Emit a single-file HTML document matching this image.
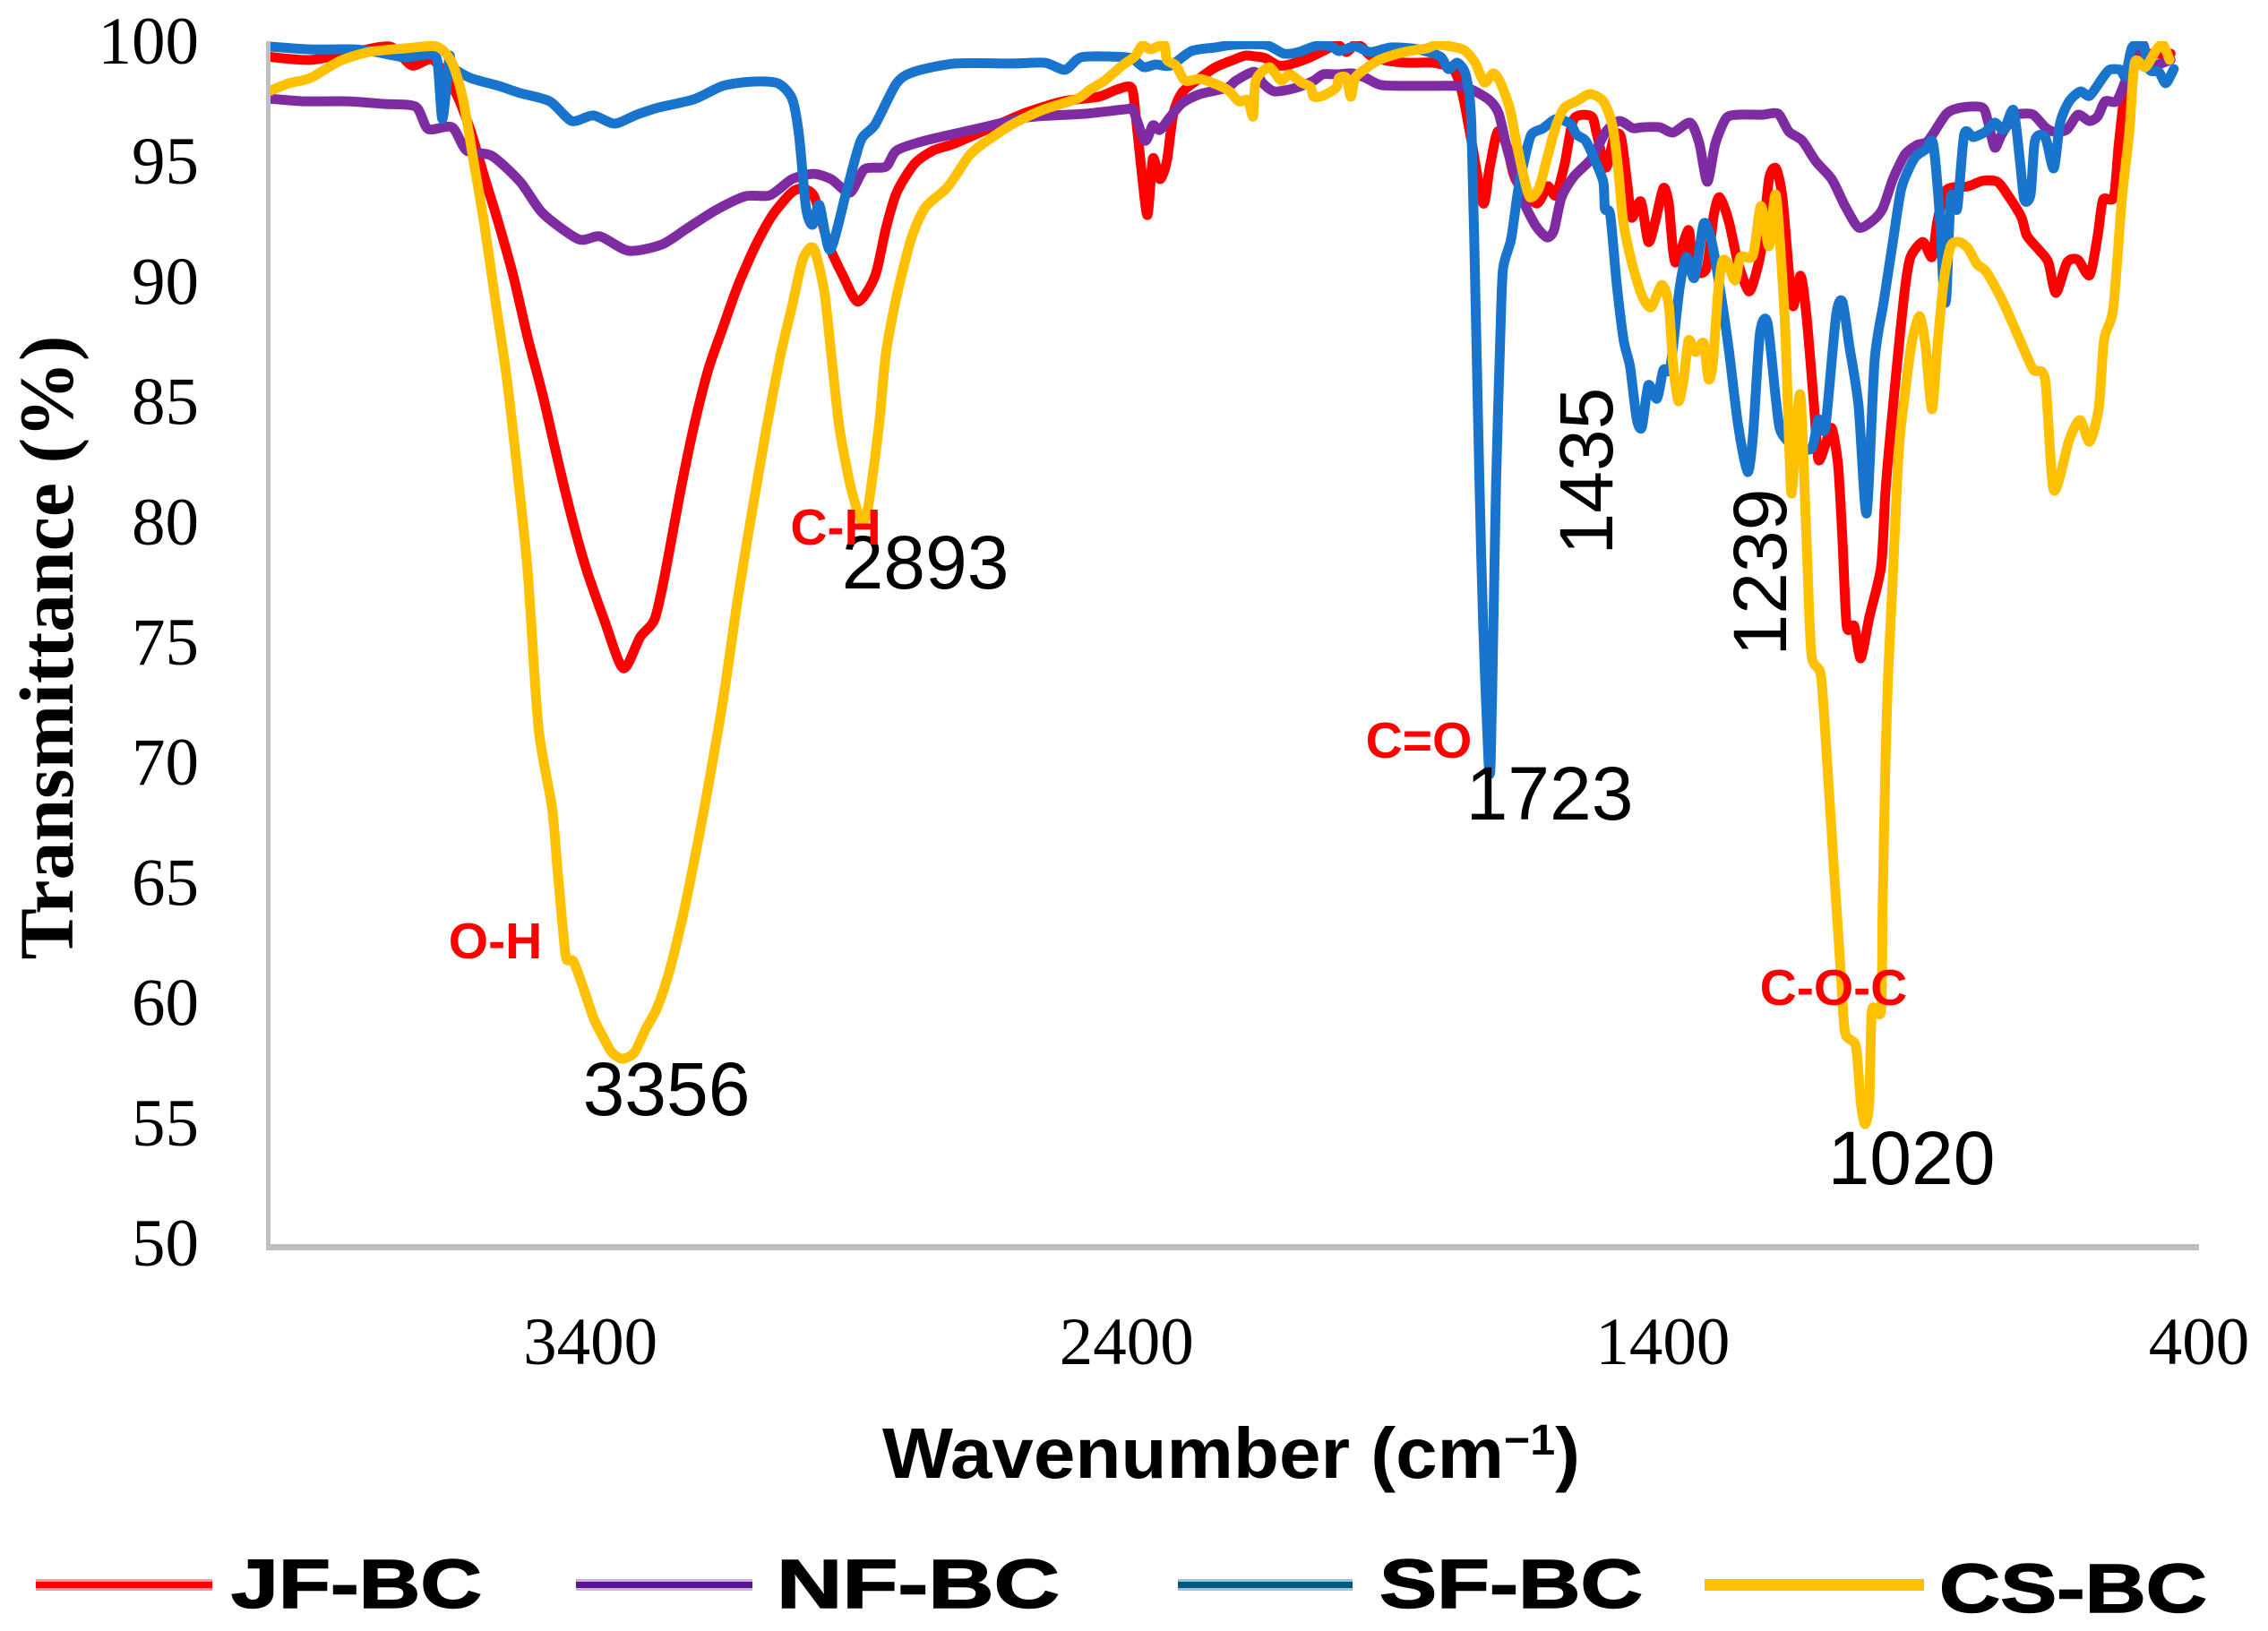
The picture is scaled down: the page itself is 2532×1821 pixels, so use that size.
<!DOCTYPE html>
<html lang="en">
<head>
<meta charset="utf-8">
<title>FTIR transmittance spectra</title>
<style>
html,body{margin:0;padding:0;background:#fff}
svg{display:block}
.tick{font-family:"Liberation Serif",serif;font-size:75px;fill:#000}
.peak{font-family:"Liberation Sans",sans-serif;font-size:84px;fill:#000;text-anchor:middle}
.group{font-family:"Liberation Sans",sans-serif;font-size:57px;font-weight:bold;fill:#f00;text-anchor:middle}
.leg{font-family:"Liberation Sans",sans-serif;font-size:77px;font-weight:bold;fill:#000;stroke:#000;stroke-width:1.5px}
</style>
</head>
<body>
<svg id="chart" xmlns="http://www.w3.org/2000/svg" width="2532" height="1821" viewBox="0 0 2532 1821">
  <defs><clipPath id="plot-clip"><rect x="298" y="46" width="2140" height="1340"/></clipPath></defs>
  <g id="series" clip-path="url(#plot-clip)"></g>
  <rect x="297" y="46" width="5" height="1350" fill="#bfbfbf"/>
  <rect x="299" y="1389" width="2156" height="7" fill="#bfbfbf"/>
  <g id="yticks"></g>
  <g id="xticks"></g>

  <text transform="translate(81,723) rotate(-90)" text-anchor="middle" font-family="'Liberation Serif',serif" font-weight="bold" font-size="86" textLength="697" lengthAdjust="spacingAndGlyphs">Transmittance (%)</text>
  <text x="985" y="1650" font-family="'Liberation Sans',sans-serif" font-weight="bold" font-size="80" textLength="779" lengthAdjust="spacingAndGlyphs">Wavenumber (cm<tspan dy="-26" font-size="48">−1</tspan><tspan dy="26">)</tspan></text>

  <text class="peak" x="744" y="1245">3356</text>
  <text class="peak" x="1033" y="657">2893</text>
  <text class="peak" x="1730" y="915">1723</text>
  <text class="peak" x="2134" y="1322">1020</text>
  <text class="peak" transform="translate(1800,526) rotate(-90)">1435</text>
  <text class="peak" transform="translate(1994,639) rotate(-90)">1239</text>

  <text class="group" x="553" y="1070">O-H</text>
  <text class="group" x="933" y="608">C-H</text>
  <text class="group" x="1584" y="846">C=O</text>
  <text class="group" x="2047" y="1122">C-O-C</text>

  <g>
    <g>
      <rect x="40" y="1763" width="197" height="13" fill="#ff9a9a"/><rect x="40" y="1766" width="197" height="7" fill="#f00"/>
      <text class="leg" x="258" y="1795" textLength="280" lengthAdjust="spacingAndGlyphs">JF-BC</text>
    </g>
    <g>
      <rect x="643" y="1763" width="197" height="13" fill="#d0b2e0"/><rect x="643" y="1766" width="197" height="7" fill="#5c1591"/>
      <text class="leg" x="867" y="1795" textLength="316" lengthAdjust="spacingAndGlyphs">NF-BC</text>
    </g>
    <g>
      <rect x="1315" y="1763" width="195" height="13" fill="#9cc4d6"/><rect x="1315" y="1766" width="195" height="7" fill="#00597f"/>
      <text class="leg" x="1540" y="1795" textLength="294" lengthAdjust="spacingAndGlyphs">SF-BC</text>
    </g>
    <g>
      <rect x="1903" y="1763" width="245" height="13" fill="#ffc000"/>
      <text class="leg" x="2165" y="1800" textLength="299" lengthAdjust="spacingAndGlyphs">CS-BC</text>
    </g>
  </g>
</svg>
<script>
const yTickValues = [100,95,90,85,80,75,70,65,60,55,50];
const xTickValues = [3400,2400,1400,400];

const jfWavenumber = [4000,3922,3840,3773,3733,3693,3651,3624,3598,3571,3544,3517,3489,3462,3436,3409,3375,3339,3307,3280,3260,3233,3207,3180,3153,3125,3091,3058,3018,2984,2956,2929,2901,2869,2849,2829,2796,2761,2720,2640,2585,2518,2452,2418,2391,2383,2371,2361,2351,2338,2325,2313,2296,2263,2234,2201,2179,2157,2141,2117,2096,2062,2034,2007,1990,1975,1962,1945,1912,1873,1828,1790,1773,1757,1735,1723,1708,1691,1675,1636,1615,1600,1583,1566,1533,1523,1506,1491,1478,1466,1458,1441,1427,1414,1399,1389,1377,1352,1344,1319,1305,1294,1277,1260,1240,1227,1215,1202,1189,1177,1165,1157,1143,1132,1118,1110,1097,1085,1073,1065,1057,1043,1031,1015,993,985,976,960,948,938,915,898,888,871,831,804,776,754,731,721,697,681,667,646,626,604,589,579,559,550,537,520,453];
const jfTransmittance = [99.5,99.37,99.7,99.92,99.14,99.37,97.99,96.46,94.52,92.55,90.39,87.82,85.43,82.82,80.44,78.28,76.12,74.07,75.37,76.12,78.09,81.33,84.13,86.51,88.23,89.98,91.69,92.99,93.96,93.74,91.69,90.39,89.31,90.39,92.36,93.85,95.04,95.6,95.9,96.68,97.2,97.65,97.84,98.14,98.21,97.02,94.52,92.92,95.27,94.41,95.16,97.13,98.03,98.62,99.07,99.37,99.55,99.51,99.44,99.14,99.18,99.44,99.74,100,99.7,100,99.92,99.55,99.33,99.25,99.25,98.96,97.88,96.01,93.4,94.89,96.39,95.79,94.41,93.4,94.11,93.74,95.04,96.91,97.02,96.27,94.89,96.16,96.16,94.15,92.81,93.48,91.8,92.66,94.04,93.4,90.95,92.29,90.68,90.68,92.92,93.66,92.66,90.95,89.75,90.42,91.69,94.41,94.86,93.66,90.57,89.12,90.39,88.71,84.98,82.75,83.35,84.05,82.49,79.43,75.82,75.82,74.48,76.19,78.28,81.33,83.72,87.44,89.94,91.17,91.8,91.17,92.66,93.96,94.11,94.34,94.3,93.66,92.81,92.06,91.43,90.95,89.68,90.95,91.06,90.42,92.06,93.55,93.66,95.79,98.25,99.51,99.63];

const nfWavenumber = [4000,3935,3853,3786,3726,3703,3658,3631,3584,3531,3489,3422,3382,3329,3267,3220,3167,3111,3065,3024,2984,2951,2916,2889,2849,2829,2776,2680,2585,2478,2401,2388,2366,2351,2338,2318,2296,2263,2213,2196,2162,2146,2124,2084,2051,2034,2007,1979,1954,1924,1857,1783,1757,1723,1706,1690,1673,1656,1636,1616,1603,1589,1566,1533,1506,1481,1456,1439,1406,1381,1349,1332,1317,1302,1282,1260,1215,1185,1165,1140,1115,1085,1060,1035,1010,990,971,948,926,905,871,843,804,793,781,768,746,731,709,687,672,647,626,605,589,575,554,537,520,504,492,453];
const nfTransmittance = [97.76,97.65,97.65,97.54,97.43,96.5,96.57,95.6,95.38,94.3,92.99,91.91,92.03,91.43,91.69,92.36,93.11,93.7,93.74,94.41,94.63,94.41,93.85,94.82,94.93,95.6,96.01,96.5,96.98,97.13,97.32,97.28,96.01,96.65,96.46,97.02,97.58,97.95,98.21,98.51,98.88,98.4,98.06,98.21,98.51,98.77,98.77,98.81,98.62,98.32,98.29,98.29,98.14,97.69,97.13,95.64,94.41,93.29,92.44,91.99,92.29,93.66,94.52,95.27,96.39,96.83,96.53,96.57,96.57,96.35,96.76,95.9,94.3,95.9,96.94,97.09,97.09,97.13,96.39,96.01,95.16,94.41,93.29,92.4,92.66,93.18,94.41,95.45,95.83,96.01,97.13,97.39,97.39,96.76,95.72,96.27,97.02,97.13,97.09,96.57,96.39,96.46,97.09,96.83,97.02,97.65,97.65,98.51,99.51,100,99.14,99.37];

const sfWavenumber = [4000,3922,3840,3800,3746,3706,3686,3676,3663,3658,3624,3571,3531,3476,3435,3395,3355,3314,3273,3207,3153,3098,3051,3024,3011,2998,2986,2973,2953,2923,2896,2869,2829,2796,2720,2614,2552,2515,2485,2425,2391,2368,2346,2318,2279,2234,2201,2141,2107,2079,2046,2017,2004,1974,1945,1907,1857,1815,1800,1783,1767,1757,1748,1742,1735,1725,1721,1716,1711,1703,1698,1683,1670,1656,1645,1623,1599,1573,1561,1544,1528,1511,1508,1498,1486,1473,1461,1449,1439,1427,1411,1399,1386,1369,1356,1341,1324,1310,1294,1277,1260,1242,1232,1219,1205,1189,1180,1152,1122,1110,1097,1077,1065,1052,1035,1020,1005,988,971,955,931,910,896,884,876,871,863,851,838,821,798,781,764,746,734,726,714,706,687,671,659,642,621,604,580,567,547,537,525,504,492,475,462,447];
const sfTransmittance = [99.93,99.81,99.81,99.7,99.48,99.59,99.37,96.91,99.48,99.07,98.62,98.29,97.99,97.65,96.83,97.06,96.72,97.09,97.39,97.73,98.29,98.47,98.4,97.76,96.24,93.22,92.51,93.33,91.47,93.85,96.01,96.68,98.4,98.88,99.22,99.22,99.25,98.96,99.48,99.51,99.44,99.07,99.18,99.14,99.74,99.89,100,100,99.63,99.7,99.96,99.93,99.74,99.93,99.7,99.89,99.81,99.51,98.99,99.25,98.7,96.65,87.97,81.74,75.78,70.19,70.19,75.78,81.74,87.97,90.68,91.91,93.93,95.42,96.27,96.53,96.91,96.72,96.27,96.01,95.27,94.3,93.18,92.92,90.05,87.7,86.59,84.46,84.09,85.84,85.28,86.47,86.59,89.83,91.17,90.31,92.55,91.91,89.94,87.33,84.24,82.23,83.72,87.97,88.45,85.21,83.91,83.23,83.23,84.42,84.09,88.71,89.31,87.44,84.98,80.51,86.85,89.31,91.8,94.04,95.27,95.64,95.9,93.03,89.68,89.57,93.67,93.18,96.27,96.16,96.39,96.76,96.46,97.28,95.16,93.55,93.78,96.01,96.16,94.86,96.76,97.65,98.06,97.88,98.62,98.96,98.96,98.7,99.89,99.93,98.96,98.88,98.4,98.99];

const csWavenumber = [4000,3962,3922,3867,3813,3746,3686,3658,3638,3618,3598,3577,3557,3537,3517,3497,3472,3462,3452,3445,3432,3415,3394,3377,3360,3340,3318,3298,3277,3257,3237,3215,3187,3153,3125,3098,3071,3045,3024,3004,2984,2964,2951,2936,2916,2896,2883,2862,2849,2829,2802,2776,2734,2694,2667,2614,2558,2492,2468,2441,2408,2385,2371,2355,2330,2325,2308,2291,2263,2229,2208,2191,2174,2164,2159,2134,2112,2096,2074,2057,2051,2034,2009,2004,1990,1982,1974,1957,1929,1883,1840,1820,1773,1750,1733,1716,1703,1686,1675,1661,1648,1631,1616,1599,1583,1561,1536,1511,1494,1483,1474,1458,1439,1422,1402,1389,1381,1371,1361,1352,1339,1324,1315,1307,1297,1289,1280,1265,1255,1232,1217,1202,1189,1173,1165,1160,1152,1143,1132,1123,1105,1093,1082,1068,1060,1040,1031,1023,1015,1010,993,990,985,980,971,960,948,935,921,910,898,888,876,863,848,831,814,796,764,731,709,687,671,642,622,604,587,577,560,544,530,520,500,479,467,455];
const csTransmittance = [98.06,98.4,98.62,99.33,99.7,99.85,99.92,99.25,97.76,95.16,92.55,89.31,86.29,82.41,78.09,71.61,68.33,65.83,63.37,61.99,61.88,60.88,59.5,58.75,58.08,57.82,58.08,59.01,59.87,61.14,62.85,65.09,68.33,72.69,77,80.66,84.13,87.15,89.12,91.06,91.54,89.75,87.15,84.13,81.74,80.25,80.66,84.13,87.15,89.53,91.91,93.22,94.08,95.38,95.9,96.68,97.28,97.76,98.14,98.51,99.14,99.51,99.96,99.81,100,99.37,99.14,98.51,98.58,98.32,98.06,97.65,97.69,97.02,98.51,99.07,98.51,98.77,98.43,98.25,97.84,97.88,98.21,98.62,98.62,97.84,98.62,98.96,99.37,99.7,99.85,100,99.81,99.25,98.43,98.81,98.43,97.39,96.16,94.67,93.66,94.04,95.27,96.65,97.39,97.65,97.95,97.65,96.65,94.78,92.66,90.95,89.57,89.08,90.01,89.19,86.7,85.17,86.1,87.7,87.22,87.59,86.1,86.7,89.68,90.98,90.95,90.2,91.17,91.24,93.29,91.62,93.74,88.71,83.72,81.33,83.72,85.36,79.43,74.66,73.73,69.93,66.13,61.36,58.9,58.34,56.03,55.1,56.03,59.83,59.83,64.23,69.93,73.73,77.9,83.12,85.58,87.7,88.71,87.44,84.84,87.44,90.2,91.62,91.8,91.54,90.87,90.54,89.23,87.55,86.48,86.06,81.48,83.57,84.39,83.49,84.91,87.74,89.04,93.55,96.39,99.25,99.07,99.81,100,99.37];

const X_LEFT = 300, X_RIGHT = 2455, WN_LEFT = 4000, WN_RIGHT = 400;
const Y_BOTTOM = 1392, Y_TOP = 50, T_BOTTOM = 50, T_TOP = 100;
function xScale(w) { return X_LEFT + (WN_LEFT - w) * (X_RIGHT - X_LEFT) / (WN_LEFT - WN_RIGHT); }
function yScale(t) { return Y_BOTTOM - (t - T_BOTTOM) * (Y_BOTTOM - Y_TOP) / (T_TOP - T_BOTTOM); }

const NS = 'http://www.w3.org/2000/svg';
function smoothPath(wn, t) {
  const px = wn.map(xScale), py = t.map(yScale), k = 1 / 8;
  let d = 'M' + px[0].toFixed(1) + ' ' + py[0].toFixed(1);
  for (let i = 0; i < px.length - 1; i++) {
    const a = Math.max(i - 1, 0), b = Math.min(i + 2, px.length - 1);
    const c1x = px[i] + (px[i + 1] - px[a]) * k, c1y = py[i] + (py[i + 1] - py[a]) * k;
    const c2x = px[i + 1] - (px[b] - px[i]) * k, c2y = py[i + 1] - (py[b] - py[i]) * k;
    d += 'C' + c1x.toFixed(1) + ' ' + c1y.toFixed(1) + ' ' + c2x.toFixed(1) + ' ' + c2y.toFixed(1) + ' ' + px[i + 1].toFixed(1) + ' ' + py[i + 1].toFixed(1);
  }
  return d;
}
function drawLine(wn, t, color, name) {
  const p = document.createElementNS(NS, 'path');
  p.setAttribute('d', smoothPath(wn, t));
  p.setAttribute('fill', 'none');
  p.setAttribute('stroke', color);
  p.setAttribute('stroke-width', '11');
  p.setAttribute('stroke-linejoin', 'round');
  p.setAttribute('stroke-linecap', 'round');
  
  
  document.getElementById('series').appendChild(p);
}
drawLine(jfWavenumber, jfTransmittance, '#ff0000', 'line-jf-bc');
drawLine(nfWavenumber, nfTransmittance, '#7f2ca3', 'line-nf-bc');
drawLine(sfWavenumber, sfTransmittance, '#1874cd', 'line-sf-bc');
drawLine(csWavenumber, csTransmittance, '#ffc000', 'line-cs-bc');

yTickValues.forEach(function (v) {
  const el = document.createElementNS(NS, 'text');
  el.setAttribute('class', 'tick');
  el.setAttribute('x', '222');
  el.setAttribute('y', yScale(v) + 21);
  el.setAttribute('text-anchor', 'end');
  
  
  el.textContent = v;
  document.getElementById('yticks').appendChild(el);
});
xTickValues.forEach(function (v) {
  const el = document.createElementNS(NS, 'text');
  el.setAttribute('class', 'tick');
  el.setAttribute('x', xScale(v));
  el.setAttribute('y', '1523');
  el.setAttribute('text-anchor', 'middle');
  
  
  el.textContent = v;
  document.getElementById('xticks').appendChild(el);
});
</script>
</body>
</html>
